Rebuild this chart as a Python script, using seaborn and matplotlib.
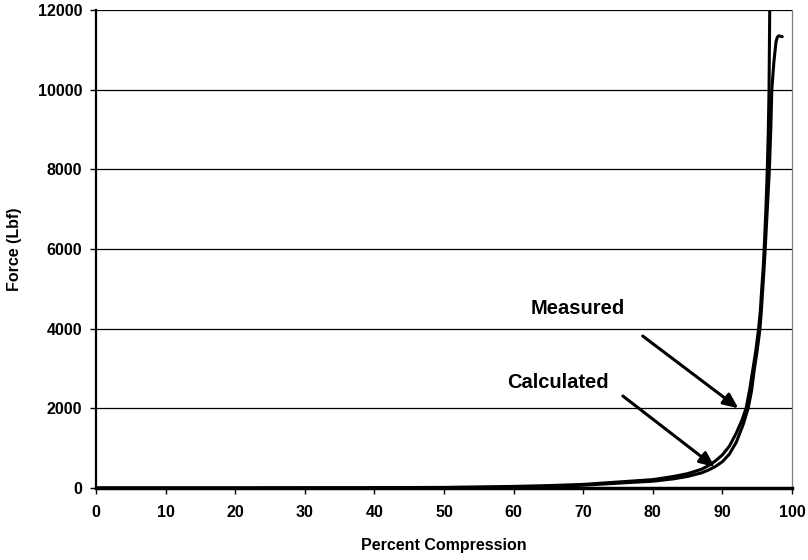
import matplotlib
matplotlib.use("Agg")
import matplotlib.pyplot as plt
import seaborn as sns
import pandas as pd

# Data
calc_x = [0, 20, 40, 50, 60, 65, 70, 75, 80, 83, 85, 87, 88, 89, 90, 91, 92, 92.8,
          93.4, 93.9, 94.4, 94.8, 95.2, 95.45, 95.65, 95.85, 96.0, 96.25, 96.45, 96.6,
          96.7, 96.75, 96.8, 96.85]
calc_y = [0, 2, 8, 15, 40, 60, 90, 150, 210, 290, 360, 470, 560, 680, 830, 1050, 1380, 1700,
          2000, 2450, 3000, 3450, 4000, 4450, 5000, 5500, 6000, 7000, 8000, 9000,
          10000, 11000, 12000, 13000]

meas_x = [0, 58.5, 58.8, 59.1, 60, 65, 70, 75, 80, 83, 85, 87, 88, 89, 90, 91, 92, 93,
          93.7, 94.2, 94.6, 95.0, 95.4, 95.6, 95.8, 96.0, 96.15, 96.45, 96.75, 96.95,
          97.1, 97.4, 97.7, 97.9, 98.1, 98.6]
meas_y = [0, 0, 40, 10, 20, 40, 70, 120, 170, 230, 290, 380, 450, 540, 660, 850, 1150, 1600,
          2000, 2450, 3000, 3450, 4000, 4450, 5000, 5550, 6000, 7000, 8000, 9000,
          10000, 10700, 11200, 11320, 11350, 11330]

x_ticks = [0, 10, 20, 30, 40, 50, 60, 70, 80, 90, 100]
y_ticks = [0, 2000, 4000, 6000, 8000, 10000, 12000]

df = pd.concat([
    pd.DataFrame({"x": calc_x, "y": calc_y, "series": "Calculated"}),
    pd.DataFrame({"x": meas_x, "y": meas_y, "series": "Measured"}),
], ignore_index=True)

sns.set_style("white")
plt.rcParams["font.family"] = ["Liberation Sans", "DejaVu Sans"]
plt.rcParams["font.weight"] = "bold"
plt.rcParams["text.color"] = "black"
plt.rcParams["axes.labelcolor"] = "black"
plt.rcParams["xtick.color"] = "black"
plt.rcParams["ytick.color"] = "black"

fig = plt.figure(figsize=(8.08, 5.6), dpi=100)
ax = fig.add_axes([0.1188, 0.1286, 0.8614, 0.8536])

for yv in y_ticks[1:]:
    ax.axhline(yv, color="black", lw=0.9, zorder=1)

sns.lineplot(data=df, x="x", y="y", hue="series", units="series", estimator=None,
             palette={"Calculated": "black", "Measured": "black"}, linewidth=2.2,
             sort=False, legend=False, ax=ax, zorder=3)

ax.set_xlim(0, 100)
ax.set_ylim(0, 12000)
ax.set_xticks(x_ticks)
ax.set_yticks(y_ticks)
ax.tick_params(axis="both", direction="out", length=4, width=1, colors="black",
               labelsize=11.5, bottom=True, left=True)
ax.tick_params(axis="x", pad=8)
ax.tick_params(axis="y", pad=6)
for lab in ax.get_xticklabels() + ax.get_yticklabels():
    lab.set_fontweight("bold")
    lab.set_color("black")

ax.set_xlabel("Percent Compression", fontsize=11.5, fontweight="bold", labelpad=13, color="black")
ax.set_ylabel("Force (Lbf)", fontsize=11.5, fontweight="bold", labelpad=11, color="black")

for side in ["left", "bottom"]:
    ax.spines[side].set_color("black")
    ax.spines[side].set_linewidth(1.6)
ax.spines["bottom"].set_linewidth(2.5)
ax.spines["top"].set_visible(False)
ax.spines["right"].set_color("#808080")
ax.spines["right"].set_linewidth(0.9)

ax.text(69.2, 4510, "Measured", fontsize=14.5, fontweight="bold", ha="center", va="center", color="black")
ax.text(66.4, 2643, "Calculated", fontsize=14.5, fontweight="bold", ha="center", va="center", color="black")
arrow = dict(arrowstyle="-|>,head_length=0.9,head_width=0.4", color="black", lw=2.2,
             shrinkA=0, shrinkB=0)
ax.annotate("", xy=(92.3, 2000), xytext=(78.55, 3815), arrowprops=arrow)
ax.annotate("", xy=(88.9, 527), xytext=(75.7, 2309), arrowprops=arrow)

fig.savefig("out.png", dpi=100)
